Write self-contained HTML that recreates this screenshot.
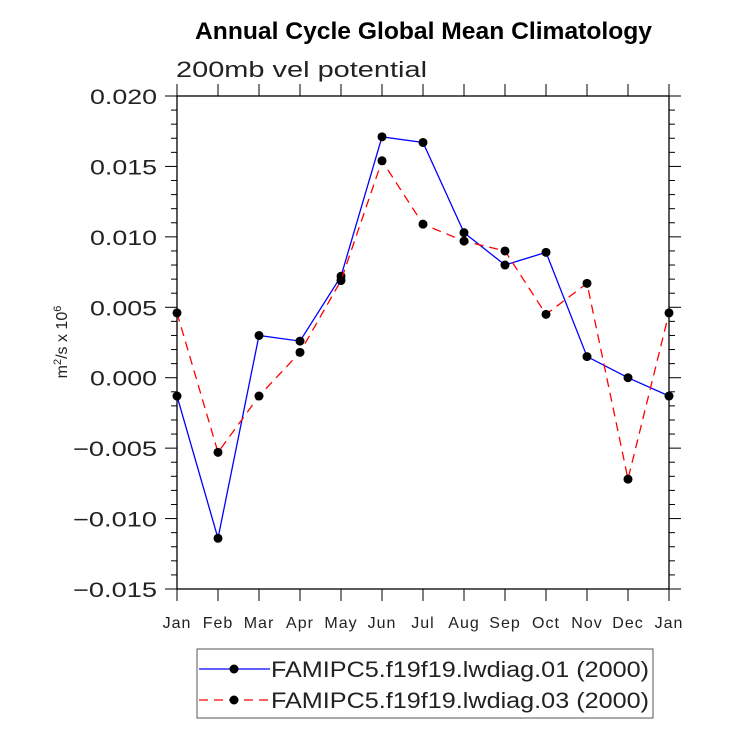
<!DOCTYPE html>
<html><head><meta charset="utf-8"><style>
body{margin:0;background:#fff}
svg text{font-family:"Liberation Sans","DejaVu Sans",sans-serif;fill:#222}
</style></head><body>
<svg id="chart" width="732" height="732" xmlns="http://www.w3.org/2000/svg">
<text x="195" y="39" textLength="457" lengthAdjust="spacingAndGlyphs" font-size="24" font-weight="bold" style="fill:#000">Annual Cycle Global Mean Climatology</text>
<text x="176" y="77" textLength="251" lengthAdjust="spacingAndGlyphs" font-size="22">200mb vel potential</text>
<text transform="translate(67,342) rotate(-90)" text-anchor="middle" font-size="16">m<tspan dy="-6" font-size="11">2</tspan><tspan dy="6">/s x 10</tspan><tspan dy="-6" font-size="11">6</tspan></text>
<g id="axes"></g>
<g id="series"></g>
<rect x="197" y="649" width="456" height="69" fill="none" stroke="#555" stroke-width="1"/>
<line x1="199" y1="669" x2="270" y2="669" stroke="#0000ff" stroke-width="1.3"/>
<circle cx="234" cy="669" r="4.5" fill="#000"/>
<text x="271" y="677" textLength="378" lengthAdjust="spacingAndGlyphs" font-size="22">FAMIPC5.f19f19.lwdiag.01 (2000)</text>
<line x1="199" y1="700" x2="270" y2="700" stroke="#ff0000" stroke-width="1.3" stroke-dasharray="9,6"/>
<circle cx="234" cy="700" r="4.5" fill="#000"/>
<text x="271" y="708" textLength="378" lengthAdjust="spacingAndGlyphs" font-size="22">FAMIPC5.f19f19.lwdiag.03 (2000)</text>
</svg>
<script>
const months=["Jan","Feb","Mar","Apr","May","Jun","Jul","Aug","Sep","Oct","Nov","Dec","Jan"];
const yTicks=[0.020,0.015,0.010,0.005,0.000,-0.005,-0.010,-0.015];
const yTickLabels=["0.020","0.015","0.010","0.005","0.000","\u22120.005","\u22120.010","\u22120.015"];
const series01=[-0.0013,-0.0114,0.0030,0.0026,0.0072,0.0171,0.0167,0.0103,0.0080,0.0089,0.0015,0.0000,-0.0013];
const series03=[0.0046,-0.0053,-0.0013,0.0018,0.0069,0.0154,0.0109,0.0097,0.0090,0.0045,0.0067,-0.0072,0.0046];
const L=177,R=669,T=96,B=589,yMin=-0.015,yMax=0.020;
const xs=i=>L+(R-L)*i/(months.length-1);
const ys=v=>B-(v-yMin)/(yMax-yMin)*(B-T);
const NS="http://www.w3.org/2000/svg";
function mk(tag,attrs,parent){const e=document.createElementNS(NS,tag);for(const k in attrs)e.setAttribute(k,attrs[k]);parent.appendChild(e);return e;}
const ax=document.getElementById('axes');
let f=mk('rect',{x:L,y:T,width:R-L,height:B-T,fill:'none',stroke:'#000','stroke-width':1.3},ax);


for(let v=yMin;v<=yMax+1e-9;v+=0.001){
  const major=Math.abs(Math.round(v*1000)%5)===0;const y=ys(v);const len=major?12:6;
  let t1=mk('line',{x1:L-len,y1:y,x2:L,y2:y,stroke:'#000','stroke-width':1},ax);
  
  
  let t2=mk('line',{x1:R,y1:y,x2:R+len,y2:y,stroke:'#000','stroke-width':1},ax);
  
  
}
yTicks.forEach((v,i)=>{
  const lab=yTickLabels[i];
  const w=lab.length===6?84:67;
  let t=mk('text',{x:157-w,y:ys(v)+8,textLength:w,lengthAdjust:'spacingAndGlyphs','font-size':21},ax);
  t.textContent=lab;
  
  
});
months.forEach((m,i)=>{
  const x=xs(i);
  let a=mk('line',{x1:x,y1:B,x2:x,y2:B+12,stroke:'#000','stroke-width':1},ax);
  
  
  let b=mk('line',{x1:x,y1:T-12,x2:x,y2:T,stroke:'#000','stroke-width':1},ax);
  
  
  let t=mk('text',{x:x,y:628,'text-anchor':'middle','font-size':16,'letter-spacing':1},ax);
  t.textContent=m;
  
  
});
const sg=document.getElementById('series');
function draw(vals,color,dash,name){
  const pts=vals.map((v,i)=>xs(i)+','+ys(v)).join(' ');
  let p=mk('polyline',{points:pts,fill:'none',stroke:color,'stroke-width':1.3},sg);
  if(dash)p.setAttribute('stroke-dasharray',dash);
  
  
  vals.forEach((v,i)=>{
    let c=mk('circle',{cx:xs(i),cy:ys(v),r:4.5,fill:'#000'},sg);
    
    
  });
}
draw(series01,'#0000ff',null,'series-01');
draw(series03,'#ff0000','9,6','series-03');
</script>
</body></html>
